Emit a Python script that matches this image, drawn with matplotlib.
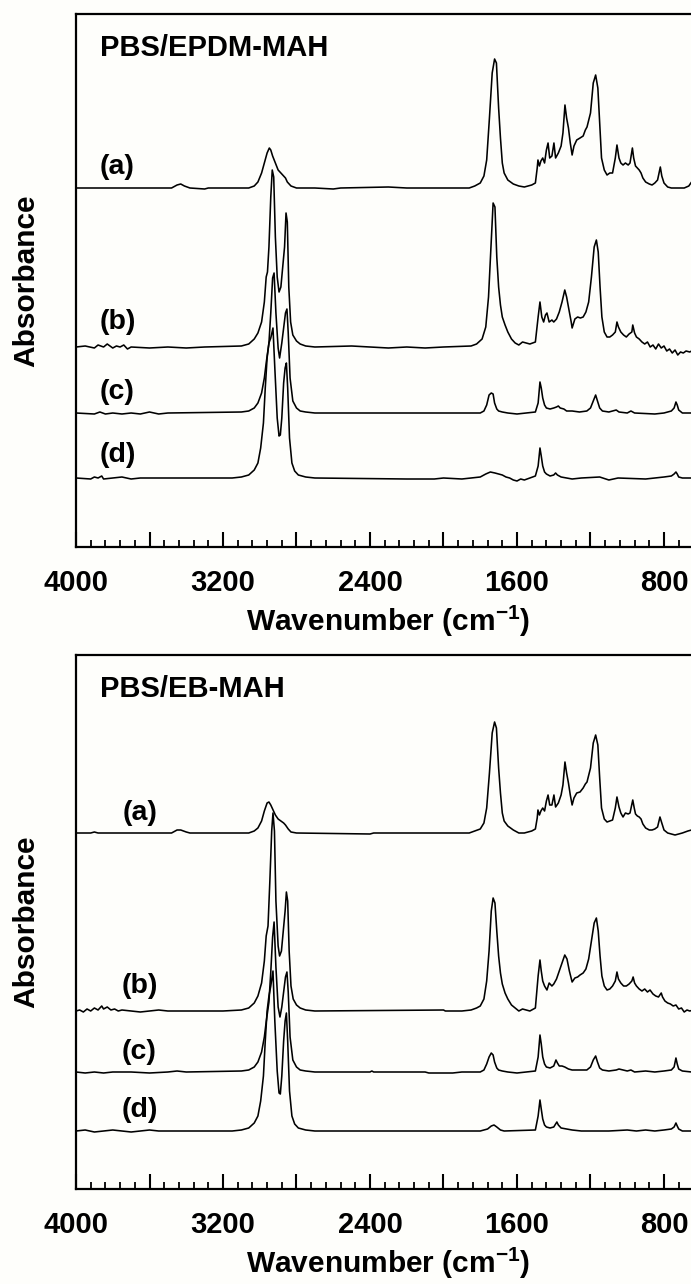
import matplotlib
matplotlib.use("Agg")
import matplotlib.pyplot as plt
import numpy as np
from matplotlib.ticker import MultipleLocator, FuncFormatter

plt.rcParams["font.family"] = ["Liberation Sans", "DejaVu Sans"]
plt.rcParams["font.weight"] = "bold"
plt.rcParams["mathtext.fontset"] = "custom"
plt.rcParams["mathtext.rm"] = "Liberation Sans:bold"
plt.rcParams["mathtext.default"] = "rm"

# FTIR spectra, (wavenumber cm-1, relative absorbance) pairs, baseline at 0
epdm_a = [(4000, 0), (3700, 0), (3480, 0), (3450, 3), (3430, 4), (3410, 2), (3380, 0), (3300, -1), (3280, 0),
          (3060, 0), (3030, 2), (3010, 6), (2990, 15), (2975, 25), (2960, 35), (2948, 40), (2940, 38), (2930, 32),
          (2915, 25), (2900, 18), (2890, 16), (2875, 13), (2860, 10), (2850, 6), (2830, 2), (2800, 0), (2700, 0),
          (2600, -1), (2560, 0), (2300, 1), (2200, 0), (1860, 0), (1830, 2), (1800, 5), (1780, 12), (1765, 28),
          (1750, 70), (1735, 115), (1722, 129), (1712, 125), (1700, 80), (1690, 50), (1680, 25), (1670, 15),
          (1650, 8), (1620, 4), (1590, 2), (1560, 1), (1520, 3), (1500, 5), (1490, 20), (1486, 28), (1478, 22),
          (1470, 27), (1460, 30), (1450, 25), (1440, 38), (1431, 45), (1422, 30), (1410, 32), (1399, 45),
          (1390, 30), (1375, 35), (1360, 42), (1350, 55), (1339, 83), (1330, 70), (1320, 60), (1310, 45),
          (1300, 33), (1290, 42), (1275, 48), (1257, 50), (1240, 52), (1228, 58), (1219, 61), (1200, 75),
          (1185, 105), (1172, 113), (1160, 100), (1150, 65), (1140, 30), (1125, 18), (1110, 13), (1095, 15),
          (1080, 15), (1065, 30), (1056, 43), (1045, 30), (1035, 25), (1023, 23), (1010, 25), (995, 23),
          (985, 25), (972, 40), (965, 30), (955, 22), (945, 20), (935, 18), (925, 15), (915, 10), (900, 6),
          (880, 4), (865, 3), (850, 5), (835, 8), (820, 21), (812, 12), (800, 5), (780, 1), (760, 0), (690, 0),
          (665, 2), (650, 6), (630, 8), (600, 6)]
epdm_b = [(4000, 0), (3950, 1), (3900, -1), (3880, 2), (3850, 0), (3830, 3), (3800, -1), (3780, 1), (3760, 0),
          (3740, 2), (3720, -2), (3700, 0), (3600, -1), (3500, 0), (3400, -1), (3300, 0), (3100, 1), (3060, 3),
          (3030, 8), (3010, 14), (2990, 25), (2975, 45), (2965, 70), (2958, 75), (2950, 100), (2940, 150),
          (2932, 177), (2924, 170), (2915, 110), (2905, 70), (2895, 55), (2885, 60), (2875, 80), (2865, 100),
          (2857, 134), (2850, 125), (2842, 60), (2832, 25), (2820, 12), (2800, 6), (2780, 3), (2750, 1),
          (2700, 0), (2500, 1), (2400, 0), (2300, -1), (2200, 0), (2100, -1), (2000, 0), (1850, 1), (1820, 3),
          (1790, 8), (1770, 20), (1755, 50), (1742, 100), (1730, 144), (1720, 140), (1710, 90), (1700, 60),
          (1690, 42), (1680, 30), (1665, 22), (1650, 15), (1630, 8), (1610, 4), (1590, 2), (1570, 5), (1550, 4),
          (1530, 3), (1500, 5), (1485, 30), (1475, 45), (1465, 30), (1455, 25), (1445, 32), (1437, 34),
          (1425, 25), (1410, 27), (1400, 25), (1385, 28), (1370, 35), (1355, 45), (1340, 57), (1330, 50),
          (1320, 40), (1305, 25), (1300, 19), (1285, 28), (1270, 30), (1255, 29), (1240, 30), (1225, 35),
          (1210, 45), (1195, 70), (1180, 100), (1168, 107), (1158, 95), (1148, 60), (1138, 30), (1125, 15),
          (1110, 10), (1095, 10), (1080, 12), (1065, 15), (1056, 25), (1048, 20), (1035, 15), (1020, 12),
          (1005, 10), (990, 13), (975, 15), (970, 22), (960, 14), (950, 10), (935, 8), (920, 5), (905, 3),
          (890, 5), (875, 0), (860, 2), (845, -2), (830, 3), (815, -1), (800, 1), (785, -4), (770, -2),
          (755, -6), (740, -3), (725, -8), (710, -5), (695, -6), (680, -4), (660, -5), (640, -3), (600, -3)]
epdm_c = [(4000, 0), (3900, -1), (3870, 1), (3840, -1), (3800, 0), (3750, -1), (3700, 0), (3650, -1), (3600, 1),
          (3550, -1), (3500, 0), (3100, 1), (3060, 2), (3030, 5), (3010, 10), (2990, 20), (2975, 35), (2965, 50),
          (2950, 70), (2940, 100), (2930, 135), (2922, 140), (2912, 100), (2900, 65), (2892, 55), (2880, 70),
          (2870, 85), (2860, 100), (2852, 104), (2845, 80), (2835, 35), (2820, 12), (2800, 5), (2780, 2),
          (2750, 1), (2700, 0), (1800, 0), (1780, 2), (1765, 8), (1752, 18), (1740, 20), (1730, 19), (1722, 10),
          (1710, 4), (1700, 2), (1680, 1), (1650, 0), (1600, -1), (1550, 0), (1500, 1), (1485, 10), (1475, 31),
          (1468, 25), (1460, 15), (1450, 8), (1440, 5), (1420, 4), (1400, 5), (1385, 6), (1375, 7), (1365, 5),
          (1345, 4), (1330, 2), (1300, 2), (1260, 1), (1220, 2), (1200, 5), (1185, 12), (1172, 18), (1162, 12),
          (1150, 5), (1135, 2), (1100, 1), (1060, 3), (1045, 1), (1000, 0), (980, 2), (960, 0), (850, -1),
          (800, 0), (760, 2), (745, 5), (735, 11), (728, 8), (720, 3), (700, 0), (600, 0)]
epdm_d = [(4000, 0), (3920, -1), (3900, 1), (3880, 0), (3860, 2), (3850, -1), (3800, 0), (3750, 1), (3700, -1),
          (3650, 0), (3150, 0), (3100, 1), (3060, 3), (3030, 8), (3010, 15), (2995, 30), (2980, 55), (2970, 90),
          (2960, 120), (2950, 135), (2940, 140), (2928, 150), (2918, 110), (2905, 60), (2895, 42), (2888, 43),
          (2880, 60), (2870, 95), (2862, 110), (2855, 115), (2848, 90), (2838, 40), (2825, 15), (2810, 7),
          (2790, 3), (2750, 1), (2700, 0), (2200, -1), (2050, -1), (2000, 0), (1900, -1), (1850, 0), (1800, 1),
          (1770, 4), (1745, 6), (1720, 5), (1700, 4), (1680, 3), (1660, 1), (1640, 0), (1620, -2), (1600, -3),
          (1580, -1), (1560, -2), (1530, 0), (1500, 2), (1485, 12), (1475, 30), (1468, 22), (1460, 12),
          (1450, 6), (1440, 4), (1420, 2), (1400, 3), (1390, 5), (1380, 3), (1360, 1), (1330, 0), (1300, -1),
          (1250, 0), (1150, 1), (1100, -2), (1050, 0), (900, -1), (850, 0), (800, 1), (760, 2), (745, 4),
          (735, 6), (728, 4), (720, 1), (700, 0), (600, 0)]

eb_a = [(4000, 0), (3920, 0), (3900, 1), (3880, 0), (3480, 0), (3450, 3), (3430, 3), (3400, 1), (3380, 0),
        (3060, 0), (3030, 2), (3010, 5), (2990, 12), (2975, 22), (2960, 30), (2950, 31), (2940, 28), (2930, 24),
        (2915, 18), (2900, 14), (2885, 12), (2870, 10), (2860, 8), (2845, 4), (2830, 1), (2800, 0), (2400, -1),
        (2380, 0), (1860, 0), (1830, 2), (1800, 4), (1780, 10), (1765, 25), (1750, 60), (1735, 100),
        (1722, 111), (1712, 105), (1700, 65), (1690, 40), (1680, 20), (1670, 12), (1650, 7), (1620, 3),
        (1590, 0), (1560, 0), (1520, 2), (1500, 4), (1490, 15), (1486, 23), (1478, 18), (1470, 22), (1460, 25),
        (1450, 22), (1440, 32), (1431, 38), (1422, 28), (1410, 28), (1399, 38), (1390, 26), (1375, 30),
        (1360, 38), (1350, 48), (1339, 71), (1330, 60), (1320, 50), (1310, 38), (1300, 28), (1290, 35),
        (1275, 40), (1257, 41), (1240, 45), (1228, 49), (1219, 51), (1200, 65), (1185, 90), (1172, 98),
        (1160, 88), (1150, 55), (1140, 25), (1125, 14), (1110, 11), (1095, 12), (1080, 13), (1065, 25),
        (1056, 36), (1045, 26), (1035, 20), (1023, 16), (1010, 20), (995, 19), (985, 20), (970, 33), (962, 25),
        (955, 19), (945, 17), (935, 16), (925, 14), (915, 9), (900, 5), (880, 3), (865, 3), (850, 4), (835, 6),
        (822, 16), (812, 10), (800, 3), (780, 0), (760, -1), (740, -2), (720, -1), (700, 0), (670, 2),
        (650, 3), (630, 5), (600, 4)]
eb_b = [(4000, 0), (3980, 1), (3960, -1), (3940, 2), (3920, 0), (3900, 3), (3880, 1), (3860, 5), (3850, 2),
        (3830, 4), (3810, 1), (3790, 2), (3770, 0), (3750, 1), (3700, 0), (3650, -1), (3600, 0), (3550, 1),
        (3500, 0), (3200, 0), (3100, 1), (3060, 3), (3030, 8), (3010, 15), (2990, 28), (2975, 50), (2965, 75),
        (2955, 85), (2945, 130), (2935, 180), (2928, 198), (2920, 180), (2912, 110), (2900, 65), (2892, 55),
        (2882, 60), (2872, 80), (2862, 100), (2855, 119), (2848, 110), (2840, 60), (2830, 25), (2818, 12),
        (2800, 6), (2780, 3), (2750, 1), (2700, 0), (2000, 1), (1990, 0), (1900, 0), (1850, 1), (1820, 3),
        (1800, 5), (1780, 12), (1765, 30), (1752, 60), (1740, 100), (1730, 113), (1720, 108), (1710, 80),
        (1700, 55), (1690, 38), (1680, 27), (1665, 18), (1650, 12), (1630, 6), (1610, 3), (1590, 0),
        (1570, 2), (1550, 1), (1530, 0), (1500, 3), (1485, 35), (1475, 51), (1468, 40), (1460, 30), (1450, 25),
        (1437, 21), (1425, 28), (1410, 25), (1400, 27), (1385, 32), (1370, 40), (1355, 48), (1340, 56),
        (1328, 52), (1315, 40), (1300, 29), (1285, 33), (1270, 34), (1257, 36), (1240, 38), (1225, 42),
        (1210, 52), (1195, 70), (1180, 88), (1168, 93), (1158, 80), (1148, 55), (1138, 35), (1125, 25),
        (1110, 21), (1095, 22), (1080, 25), (1065, 30), (1056, 39), (1048, 32), (1035, 28), (1020, 25),
        (1005, 25), (990, 27), (975, 30), (968, 34), (960, 28), (950, 25), (935, 22), (920, 20), (905, 22),
        (890, 19), (876, 21), (860, 17), (845, 15), (830, 14), (815, 18), (808, 14), (795, 10), (780, 8),
        (765, 7), (750, 5), (735, 6), (720, 2), (705, 3), (690, -1), (675, 1), (660, 0), (640, 1), (600, 0)]
eb_c = [(4000, 0), (3950, -1), (3900, 0), (3850, -1), (3800, 0), (3700, 0), (3600, -1), (3500, 0), (3450, 1),
        (3400, 0), (3100, 1), (3060, 2), (3030, 5), (3010, 10), (2990, 20), (2975, 35), (2965, 50), (2950, 70),
        (2940, 100), (2930, 135), (2922, 150), (2912, 105), (2900, 65), (2890, 55), (2880, 65), (2870, 80),
        (2860, 95), (2852, 100), (2845, 80), (2835, 35), (2820, 12), (2800, 5), (2780, 2), (2750, 1),
        (2700, 0), (2400, 0), (2390, 1), (2380, 0), (2100, 0), (2080, -1), (1950, -1), (1900, 0), (1800, 0),
        (1780, 2), (1765, 8), (1752, 15), (1740, 19), (1730, 17), (1722, 10), (1710, 4), (1700, 2), (1680, 1),
        (1650, 0), (1600, -1), (1550, 0), (1500, 1), (1485, 15), (1475, 37), (1468, 28), (1460, 15),
        (1450, 8), (1440, 5), (1420, 4), (1400, 6), (1388, 12), (1380, 9), (1370, 6), (1355, 6), (1340, 5),
        (1320, 3), (1300, 2), (1220, 2), (1200, 5), (1185, 12), (1172, 16), (1162, 10), (1150, 4), (1135, 2),
        (1100, 1), (1060, 2), (1045, 3), (1000, 1), (980, 2), (960, 0), (900, 1), (850, 0), (800, 1),
        (760, 2), (745, 5), (735, 14), (728, 8), (720, 3), (700, 1), (650, 0), (600, 0)]
eb_d = [(4000, 0), (3950, 1), (3900, -1), (3850, 0), (3800, 1), (3750, 0), (3700, -1), (3650, 0), (3600, 1),
        (3550, 0), (3150, 0), (3100, 1), (3060, 3), (3030, 8), (3010, 15), (2995, 30), (2980, 55), (2970, 90),
        (2960, 120), (2950, 135), (2940, 145), (2928, 160), (2918, 110), (2905, 60), (2895, 38), (2888, 37),
        (2880, 55), (2870, 90), (2862, 110), (2855, 118), (2848, 90), (2838, 40), (2825, 15), (2810, 7),
        (2790, 3), (2750, 1), (2700, 0), (1800, 0), (1760, 2), (1740, 5), (1725, 6), (1710, 4), (1690, 1),
        (1670, 0), (1500, 1), (1485, 15), (1475, 31), (1468, 22), (1460, 12), (1450, 6), (1440, 4), (1420, 3),
        (1400, 4), (1383, 9), (1375, 6), (1360, 3), (1330, 2), (1300, 1), (1250, 0), (1100, 0), (1000, 1),
        (950, 0), (900, 1), (850, 0), (800, 1), (760, 2), (745, 4), (735, 8), (728, 5), (720, 2), (700, 0),
        (600, 0)]

curve_labels = ["(a)", "(b)", "(c)", "(d)"]
epdm_offsets = [359, 200, 134, 69]
eb_offsets = [356, 178, 117, 58]

panels = [
    ("PBS/EPDM-MAH", [epdm_a, epdm_b, epdm_c, epdm_d], epdm_offsets, 533, [3870, 3870, 3870, 3870], [21, 25, 21, 23]),
    ("PBS/EB-MAH", [eb_a, eb_b, eb_c, eb_d], eb_offsets, 534, [3745, 3750, 3750, 3750], [20, 25, 20, 21]),
]

W, H = 691, 1284
fig = plt.figure(figsize=(W / 100, H / 100), dpi=100, facecolor="#fefefb")
axes_px = [(76, 547, 533), (76, 1189, 534)]  # left, bottom, height in pixels
ax_w = 624.75

for (title, spectra, offsets, ytop, lab_x, lab_dy), (left, bottom, height) in zip(panels, axes_px):
    ax = fig.add_axes([left / W, (H - bottom) / H, ax_w / W, height / H])
    ax.set_facecolor("#fefefb")
    for spec, off, lab, lx, dy in zip(spectra, offsets, curve_labels, lab_x, lab_dy):
        arr = np.array(spec, dtype=float)
        ax.plot(arr[:, 0], arr[:, 1] + off, color="black", lw=1.15)
        ax.text(lx, off + dy, lab, fontsize=20.5, fontweight="bold", ha="left", va="center")
    ax.text(3870, ytop - 34, title, fontsize=21, fontweight="bold", ha="left", va="center")

    ax.set_xlim(4000, 600)
    ax.set_ylim(0, ytop)
    ax.set_yticks([])
    ax.xaxis.set_major_locator(MultipleLocator(400))
    ax.xaxis.set_minor_locator(MultipleLocator(80))
    ax.xaxis.set_major_formatter(FuncFormatter(lambda v, p: f"{v:.0f}" if round(v) % 800 == 0 else ""))
    ax.tick_params(axis="x", which="major", direction="in", length=11, width=1.5, pad=16, labelsize=21)
    ax.tick_params(axis="x", which="minor", direction="in", length=5, width=1.3)
    for sp in ax.spines.values():
        sp.set_linewidth(1.6)
    ax.set_xlabel("Wavenumber (cm$^{-1}$)", fontsize=21.5, fontweight="bold")
    ax.xaxis.set_label_coords(0.5, -0.106)
    fig.text(26 / W, (H - (bottom - height / 2)) / H, "Absorbance", rotation=90,
             fontsize=21.5, fontweight="bold", ha="center", va="center")

fig.savefig("out.png", dpi=100, facecolor=fig.get_facecolor())
